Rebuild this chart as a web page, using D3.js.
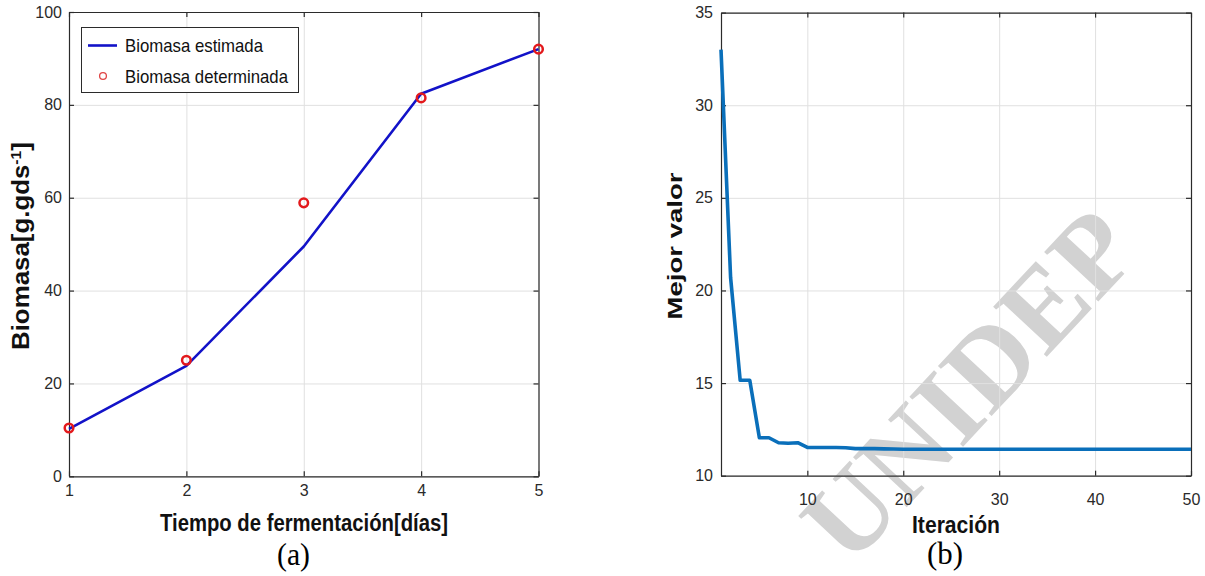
<!DOCTYPE html>
<html>
<head>
<meta charset="utf-8">
<script src="https://cdn.jsdelivr.net/npm/d3@7"></script>
<style>
  body { margin: 0; background: #fff; }
  svg { display: block; }
  text { font-family: "Liberation Sans", Arial, sans-serif; }
</style>
</head>
<body>
<div id="chart"></div>
<script>
const width = 1205;
const height = 576;

//-------data (a): biomasa-------//
const dias = [1, 2, 3, 4, 5];
const biomasaEstimada = [10.2, 23.8, 49.5, 82.4, 92.0];
const biomasaDeterminada = [10.4, 25.0, 58.9, 81.5, 92.0];
const ticksDias = [1, 2, 3, 4, 5];
const ticksBiomasa = [0, 20, 40, 60, 80, 100];

//-------data (b): mejor valor por iteracion-------//
const mejorValor = [
  33.0, 20.7, 15.15, 15.15, 12.05, 12.05, 11.78, 11.75, 11.78, 11.53,
  11.52, 11.52, 11.52, 11.51, 11.46, 11.46, 11.46, 11.45, 11.44, 11.43,
  11.43, 11.43, 11.43, 11.43, 11.43, 11.43, 11.43, 11.43, 11.43, 11.43,
  11.43, 11.43, 11.43, 11.43, 11.43, 11.43, 11.43, 11.43, 11.43, 11.43,
  11.43, 11.43, 11.43, 11.43, 11.43, 11.43, 11.43, 11.43, 11.43, 11.43,
];
const ticksIteracion = [10, 20, 30, 40, 50];
const ticksMejor = [10, 15, 20, 25, 30, 35];

const axisColor = "#2b2b2b";
const gridColor = "#e0e0e0";

const svg = d3
  .select("#chart")
  .append("svg")
  .attr("width", width)
  .attr("height", height);

svg.append("rect").attr("width", width).attr("height", height).attr("fill", "#fff");

//-------watermark (behind everything)-------//
svg
  .append("text")
  .attr("transform", "translate(968,384) rotate(-47)")
  .attr("text-anchor", "middle")
  .attr("dy", "0.35em")
  .attr("textLength", 430)
  .attr("lengthAdjust", "spacingAndGlyphs")
  .style("font-family", "'Liberation Serif', 'Times New Roman', serif")
  .style("font-weight", "bold")
  .style("font-size", "112px")
  .attr("fill", "#d2d2d2")
  .text("UNIDEP");

//-------one panel: grid, frame, ticks on four sides-------//
function panel(box, xDomain, yDomain, xTicks, yTicks, xPad, yPad) {
  const x = d3.scaleLinear().domain(xDomain).range([box.x0, box.x1]);
  const y = d3.scaleLinear().domain(yDomain).range([box.y1, box.y0]);
  const g = svg.append("g");
  const h = box.y1 - box.y0;
  const w = box.x1 - box.x0;

  // grid
  g.append("g")
    .attr("transform", `translate(0,${box.y1})`)
    .call(d3.axisBottom(x).tickValues(xTicks).tickSize(-h).tickFormat(""))
    .call((s) => s.select(".domain").remove())
    .call((s) => s.selectAll("line").attr("stroke", gridColor));
  g.append("g")
    .attr("transform", `translate(${box.x0},0)`)
    .call(d3.axisLeft(y).tickValues(yTicks).tickSize(-w).tickFormat(""))
    .call((s) => s.select(".domain").remove())
    .call((s) => s.selectAll("line").attr("stroke", gridColor));

  const style = (s) => {
    s.select(".domain").attr("stroke", axisColor).attr("stroke-width", 1.2);
    s.selectAll("line").attr("stroke", axisColor).attr("stroke-width", 1.2);
    s.selectAll("text")
      .attr("fill", "#2a2a2a")
      .style("font-size", "16px")
      .style("font-family", "'Liberation Sans', Arial, sans-serif");
  };

  const axes = svg.append("g").attr("class", "axes");
  axes.append("g")
    .attr("transform", `translate(0,${box.y1})`)
    .call(d3.axisBottom(x).tickValues(xTicks).tickSize(-5).tickSizeOuter(0).tickPadding(xPad).tickFormat(d3.format("d")))
    .call(style);
  axes.append("g")
    .attr("transform", `translate(0,${box.y0})`)
    .call(d3.axisTop(x).tickValues(xTicks).tickSize(-5).tickSizeOuter(0).tickFormat(""))
    .call(style);
  axes.append("g")
    .attr("transform", `translate(${box.x0},0)`)
    .call(d3.axisLeft(y).tickValues(yTicks).tickSize(-5).tickSizeOuter(0).tickPadding(yPad).tickFormat(d3.format("d")))
    .call(style);
  axes.append("g")
    .attr("transform", `translate(${box.x1},0)`)
    .call(d3.axisRight(y).tickValues(yTicks).tickSize(-5).tickSizeOuter(0).tickFormat(""))
    .call(style);

  return { x, y, g, axes };
}

function xLabel(cx, baseline, txt, len) {
  svg.append("text")
    .attr("x", cx)
    .attr("y", baseline)
    .attr("text-anchor", "middle")
    .attr("textLength", len)
    .attr("lengthAdjust", "spacingAndGlyphs")
    .style("font-weight", "bold")
    .style("font-size", "23px")
    .attr("fill", "#111")
    .text(txt);
}

function caption(cx, baseline, txt, len) {
  svg.append("text")
    .attr("x", cx)
    .attr("y", baseline)
    .attr("text-anchor", "middle")
    .attr("textLength", len)
    .attr("lengthAdjust", "spacingAndGlyphs")
    .style("font-family", "'Liberation Serif', 'Times New Roman', serif")
    .style("font-size", "31px")
    .attr("fill", "#000")
    .text(txt);
}

//-------(a) biomasa-------//
const pa = panel(
  { x0: 69, x1: 538.5, y0: 12, y1: 476.3 },
  [1, 5], [0, 100], ticksDias, ticksBiomasa, 8, 7
);

const lineA = d3.line().x((d, i) => pa.x(dias[i])).y((d) => pa.y(d));
svg.append("path")
  .datum(biomasaEstimada)
  .attr("fill", "none")
  .attr("stroke", "#1212c8")
  .attr("stroke-width", 2.6)
  .attr("stroke-linejoin", "round")
  .attr("d", lineA);

svg.append("g")
  .selectAll("circle")
  .data(biomasaDeterminada)
  .join("circle")
  .attr("cx", (d, i) => pa.x(dias[i]))
  .attr("cy", (d) => pa.y(d))
  .attr("r", 4.3)
  .attr("fill", "none")
  .attr("stroke", "#e3191c")
  .attr("stroke-width", 2.5);

// legend
const leg = svg.append("g");
leg.append("rect")
  .attr("x", 81.5).attr("y", 27.5).attr("width", 217).attr("height", 65)
  .attr("fill", "#fff").attr("stroke", axisColor).attr("stroke-width", 1);
leg.append("line")
  .attr("x1", 88).attr("x2", 117).attr("y1", 45.5).attr("y2", 45.5)
  .attr("stroke", "#1212c8").attr("stroke-width", 2.6);
leg.append("circle")
  .attr("cx", 103).attr("cy", 76).attr("r", 3.4)
  .attr("fill", "none").attr("stroke", "#e04545").attr("stroke-width", 1.3);
[["Biomasa estimada", 45.5, 138], ["Biomasa determinada", 76, 163]].forEach(([t, cy, len]) => {
  leg.append("text")
    .attr("x", 125).attr("y", cy).attr("dy", "0.36em")
    .attr("textLength", len).attr("lengthAdjust", "spacingAndGlyphs")
    .style("font-size", "19px").attr("fill", "#111")
    .text(t);
});

xLabel(304, 531, "Tiempo de fermentación[días]", 288);
const ylA = svg.append("text")
  .attr("transform", "translate(29,246) rotate(-90)")
  .attr("text-anchor", "middle")
  .attr("textLength", 208)
  .attr("lengthAdjust", "spacingAndGlyphs")
  .style("font-weight", "bold")
  .style("font-size", "23px")
  .attr("fill", "#111");
ylA.append("tspan").text("Biomasa[g.gds");
ylA.append("tspan").attr("baseline-shift", "super").style("font-size", "14px").text("-1");
ylA.append("tspan").text("]");
caption(293.5, 565, "(a)", 33);

//-------(b) mejor valor-------//
const pb = panel(
  { x0: 721, x1: 1191, y0: 12.6, y1: 475.7 },
  [1, 50], [10, 35], ticksIteracion, ticksMejor, 18, 8
);

const lineB = d3.line().x((d, i) => pb.x(i + 1)).y((d) => pb.y(d));
svg.append("path")
  .datum(mejorValor)
  .attr("fill", "none")
  .attr("stroke", "#0a6fba")
  .attr("stroke-width", 3.6)
  .attr("stroke-linejoin", "round")
  .attr("d", lineB);

xLabel(956, 533, "Iteración", 88);
svg.append("text")
  .attr("transform", "translate(682,246) rotate(-90)")
  .attr("text-anchor", "middle")
  .attr("textLength", 147)
  .attr("lengthAdjust", "spacingAndGlyphs")
  .style("font-weight", "bold")
  .style("font-size", "21px")
  .attr("fill", "#111")
  .text("Mejor valor");
caption(945, 564, "(b)", 36);
</script>
</body>
</html>
